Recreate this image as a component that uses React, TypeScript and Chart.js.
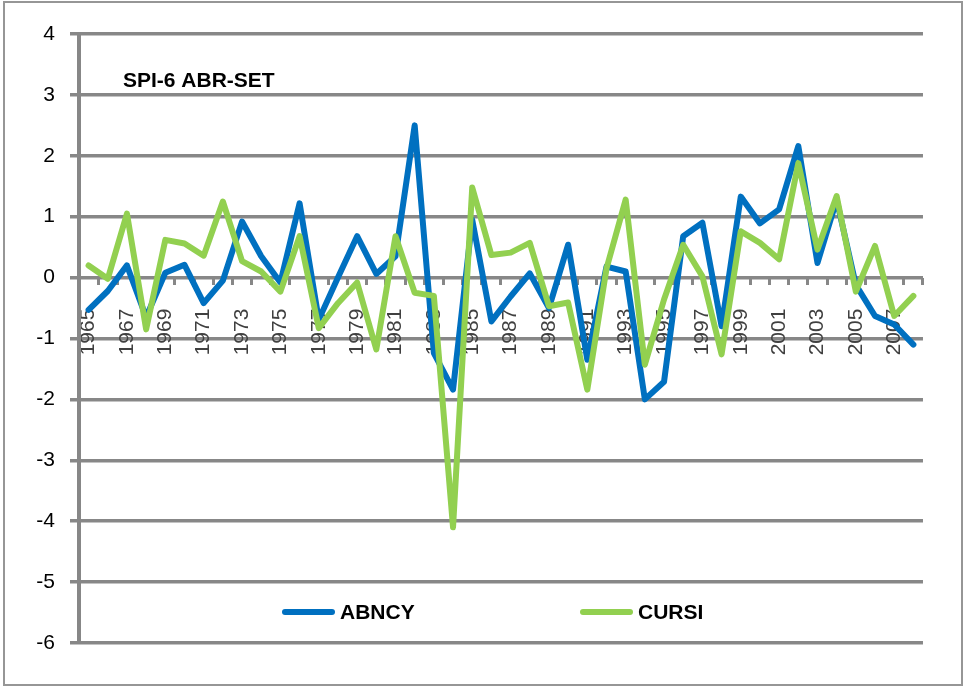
import React, { useEffect, useRef } from "react";
import { Chart, registerables } from "chart.js";

Chart.register(...registerables);

const years: string[] = [
  "1965", "1966", "1967", "1968", "1969", "1970", "1971", "1972", "1973", "1974",
  "1975", "1976", "1977", "1978", "1979", "1980", "1981", "1982", "1983", "1984",
  "1985", "1986", "1987", "1988", "1989", "1990", "1991", "1992", "1993", "1994",
  "1995", "1996", "1997", "1998", "1999", "2000", "2001", "2002", "2003", "2004",
  "2005", "2006", "2007", "2008",
];

const abncy: number[] = [
  -0.53, -0.22, 0.2, -0.65, 0.08, 0.21, -0.42, -0.05, 0.92, 0.35,
  -0.08, 1.22, -0.69, 0.0, 0.68, 0.06, 0.35, 2.5, -1.24, -1.84,
  0.95, -0.72, -0.31, 0.07, -0.5, 0.54, -1.35, 0.18, 0.1, -2.0,
  -1.71, 0.68, 0.9, -0.8, 1.33, 0.89, 1.12, 2.16, 0.24, 1.28,
  -0.12, -0.63, -0.77, -1.1,
];

const cursi: number[] = [
  0.2, -0.02, 1.05, -0.85, 0.62, 0.56, 0.36, 1.25, 0.27, 0.1,
  -0.23, 0.68, -0.83, -0.42, -0.08, -1.18, 0.68, -0.25, -0.3, -4.1,
  1.48, 0.37, 0.41, 0.57, -0.47, -0.41, -1.84, 0.15, 1.28, -1.43,
  -0.36, 0.54, 0.02, -1.26, 0.76, 0.57, 0.3, 1.88, 0.46, 1.34,
  -0.23, 0.52, -0.63, -0.3,
];

const seriesNames: string[] = ["ABNCY", "CURSI"];
const seriesColors: string[] = ["#0070C0", "#92D050"];
const chartTitle = "SPI-6 ABR-SET";
const yMin = -6;
const yMax = 4;

const FONT = "'Liberation Sans', Arial, sans-serif";
const GRID = "#878787";

const overlayPlugin = {
  id: "overlay",
  afterDraw(chart: any) {
    const { ctx, chartArea } = chart;
    ctx.save();
    // title inside plot area
    ctx.fillStyle = "#000";
    ctx.font = `bold 21px ${FONT}`;
    ctx.textAlign = "left";
    ctx.textBaseline = "alphabetic";
    ctx.fillText(chartTitle, chartArea.left + 44, chartArea.top + 53);
    // legend inside plot area
    const legendY = chartArea.bottom - 31;
    const starts = [chartArea.left + 203, chartArea.left + 501];
    chart.data.datasets.forEach((ds: any, i: number) => {
      const x0 = starts[i];
      ctx.strokeStyle = ds.borderColor;
      ctx.lineWidth = 6;
      ctx.lineCap = "round";
      ctx.beginPath();
      ctx.moveTo(x0 + 3, legendY);
      ctx.lineTo(x0 + 50, legendY);
      ctx.stroke();
      ctx.fillStyle = "#000";
      ctx.font = `bold 21px ${FONT}`;
      ctx.textBaseline = "middle";
      ctx.fillText(ds.label, x0 + 58, legendY + 1);
    });
    ctx.restore();
  },
};

export default function App() {
  const canvasRef = useRef<HTMLCanvasElement | null>(null);

  useEffect(() => {
    if (!canvasRef.current) return;
    const chart = new Chart(canvasRef.current, {
      type: "line",
      data: {
        labels: years,
        datasets: [
          {
            label: seriesNames[0],
            data: abncy,
            borderColor: seriesColors[0],
            backgroundColor: seriesColors[0],
            borderWidth: 6,
            pointRadius: 0,
            tension: 0,
            borderJoinStyle: "round",
            borderCapStyle: "round",
            order: 2,
          },
          {
            label: seriesNames[1],
            data: cursi,
            borderColor: seriesColors[1],
            backgroundColor: seriesColors[1],
            borderWidth: 6,
            pointRadius: 0,
            tension: 0,
            borderJoinStyle: "round",
            borderCapStyle: "round",
            order: 1,
          },
        ],
      },
      options: {
        animation: false,
        responsive: false,
        maintainAspectRatio: false,
        layout: { padding: { top: 34, bottom: 43, left: 0, right: 36 } },
        plugins: {
          legend: { display: false },
          title: { display: false },
          tooltip: { enabled: false },
        },
        scales: {
          x: {
            type: "category",
            position: { y: 0 } as any,
            offset: true,
            grid: {
              display: true,
              drawOnChartArea: false,
              drawTicks: true,
              tickLength: 7,
              offset: true,
              color: GRID,
              lineWidth: 3,
            },
            border: { display: false },
            ticks: {
              autoSkip: false,
              maxRotation: 90,
              minRotation: 90,
              padding: 24,
              color: "#404040",
              font: { family: FONT, size: 21 },
              callback: (_v: any, i: number) => (i % 2 === 0 ? years[i] : ""),
            },
          },
          y: {
            min: yMin,
            max: yMax,
            position: "left",
            afterFit: (s: any) => {
              s.width = 79;
            },
            grid: {
              color: GRID,
              lineWidth: 3.5,
              drawTicks: true,
              tickLength: 9,
            },
            border: { display: true, color: GRID, width: 4 },
            ticks: {
              stepSize: 1,
              padding: 15,
              color: "#000",
              font: { family: FONT, size: 21 },
            },
          },
        },
      },
      plugins: [overlayPlugin],
    });
    return () => chart.destroy();
  }, []);

  return (
    <div style={{ position: "absolute", left: 0, top: 0, width: 963, height: 686, background: "#fff" }}>
      <canvas ref={canvasRef} width={963} height={686} style={{ position: "absolute", left: 0, top: 0 }} />
      <div
        style={{
          position: "absolute",
          left: 3,
          top: 1,
          width: 960,
          height: 685,
          boxSizing: "border-box",
          border: "2px solid #969696",
          pointerEvents: "none",
        }}
      />
    </div>
  );
}
